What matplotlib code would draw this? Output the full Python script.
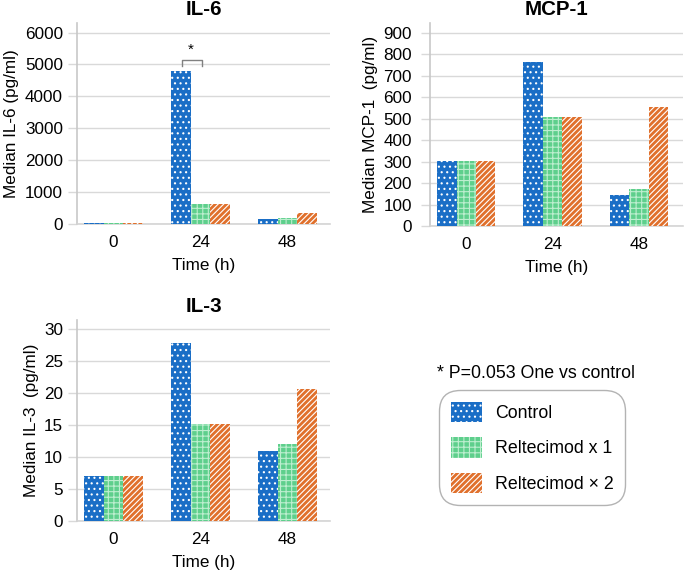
import numpy as np
import matplotlib
matplotlib.use("Agg")
import matplotlib.pyplot as plt
from matplotlib.patches import Patch

plt.rcParams["font.family"] = "Liberation Sans"
plt.rcParams["font.size"] = 12.3
plt.rcParams["hatch.linewidth"] = 0.8

# data
times = ["0", "24", "48"]
groups = ["Control", "Reltecimod x 1", "Reltecimod \u00d7 2"]

il6_control = [25, 4810, 165]
il6_x1 = [25, 640, 190]
il6_x2 = [25, 640, 350]

mcp1_control = [302, 763, 145]
mcp1_x1 = [302, 506, 172]
mcp1_x2 = [302, 506, 555]

il3_control = [7.0, 27.8, 10.9]
il3_x1 = [7.0, 15.2, 12.1]
il3_x2 = [7.0, 15.2, 20.6]

colors = ["#1a6ec6", "#5ecf8c", "#e0702c"]
hatch_cols = ["white", "#bdeecf", "white"]
hatches = ["...", "+++", "//////"]

W, H = 685, 574
fig = plt.figure(figsize=(W / 100, H / 100), dpi=100)


def make_axes(l, r, top, bottom):
    return fig.add_axes([l / W, 1 - bottom / H, (r - l) / W, (bottom - top) / H])


def panel(ax, series, title, ylabel, yticks, ymax, xlim, ypad):
    x = np.arange(len(times))
    bw = 0.225
    for i, vals in enumerate(series):
        ax.bar(x + (i - 1) * bw, vals, bw, color=colors[i], hatch=hatches[i],
               edgecolor=hatch_cols[i], linewidth=0, zorder=3)
    ax.set_xticks(x)
    ax.set_xticklabels(times)
    ax.set_yticks(yticks)
    ax.tick_params(axis="y", length=6.5, width=1, color="#d9d9d9", pad=ypad)
    ax.tick_params(axis="x", length=0, pad=8)
    ax.set_ylim(0, ymax)
    ax.set_xlim(*xlim)
    ax.grid(axis="y", color="#d9d9d9", linewidth=1, zorder=0)
    for s in ["top", "right"]:
        ax.spines[s].set_visible(False)
    ax.spines["left"].set_color("#c8c8c8")
    ax.spines["bottom"].set_color("#d4d4d4")
    ax.spines["left"].set_linewidth(1.2)
    ax.spines["bottom"].set_linewidth(1.2)
    ax.set_title(title, fontweight="bold", pad=6)
    ax.set_ylabel(ylabel, labelpad=4)
    ax.set_xlabel("Time (h)", labelpad=6)


ax1 = make_axes(77, 330, 23, 224)
panel(ax1, [il6_control, il6_x1, il6_x2], "IL-6", "Median IL-6 (pg/ml)",
      range(0, 6001, 1000), 6300, (-0.42, 2.49), 3.5)
# significance bracket
bx0, bx1, by, bh = 1 - 0.21, 1 + 0.02, 5130, 190
ax1.plot([bx0, bx0, bx1, bx1], [by - bh, by, by, by - bh], color="#808080", lw=1, zorder=4)
ax1.text((bx0 + bx1) / 2 - 0.02, by + 120, "*", ha="center", va="bottom", fontsize=11)

ax2 = make_axes(430, 683, 23, 226)
panel(ax2, [mcp1_control, mcp1_x1, mcp1_x2], "MCP-1", "Median MCP-1  (pg/ml)",
      range(0, 901, 100), 946, (-0.42, 2.51), 6.5)

ax3 = make_axes(77, 330, 320, 521)
panel(ax3, [il3_control, il3_x1, il3_x2], "IL-3", "Median IL-3  (pg/ml)",
      range(0, 31, 5), 31.45, (-0.42, 2.49), 3.5)

fig.text(437 / W, 1 - 374 / H, "* P=0.053 One vs control", fontsize=12.8, va="center")
handles = [Patch(facecolor=colors[i], hatch=hatches[i], edgecolor=hatch_cols[i], linewidth=0)
           for i in range(3)]
leg = fig.legend(handles, groups, loc="upper left", bbox_to_anchor=(439 / W, 1 - 390 / H),
                 fontsize=12.8, frameon=True, fancybox=True, handlelength=1.75, handleheight=1.4,
                 labelspacing=0.85, borderpad=0.65, handletextpad=0.75, borderaxespad=0)
frame = leg.get_frame()
frame.set_edgecolor("#a0a0a0")
frame.set_linewidth(1)
frame.set_boxstyle("round,pad=0,rounding_size=1.2")

fig.savefig("out.png", dpi=100)
